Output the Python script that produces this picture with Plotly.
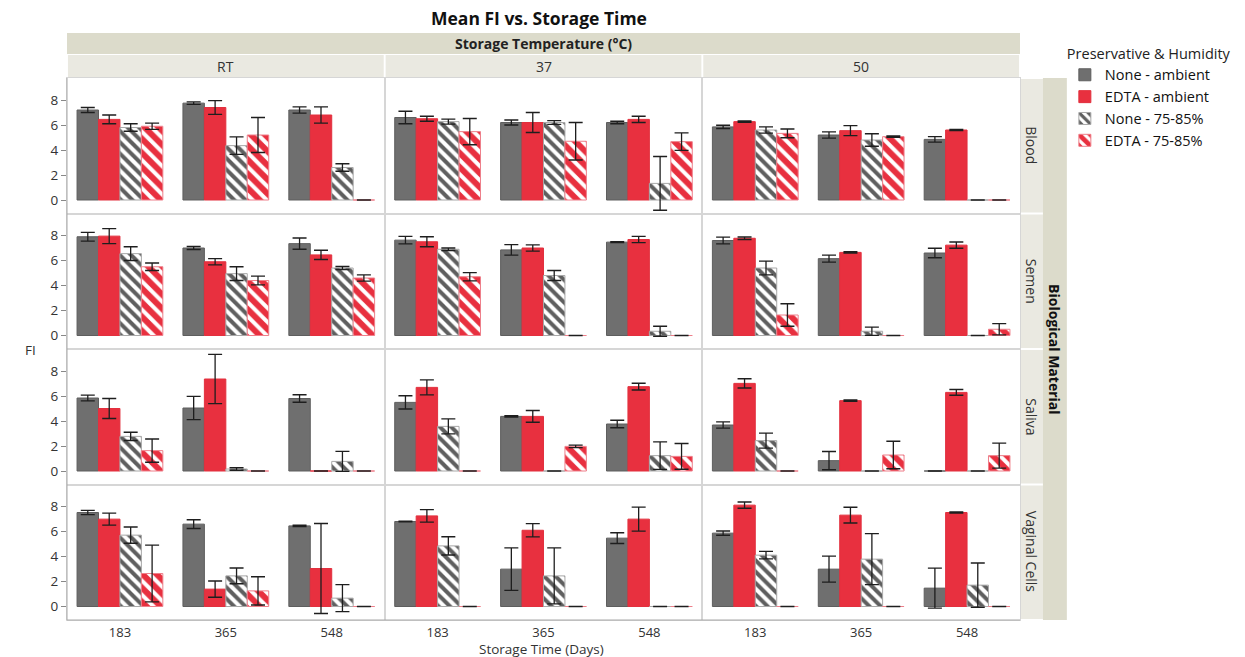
import plotly.graph_objects as go
from plotly.subplots import make_subplots

days = ["183", "365", "548"]
temps = ["RT", "37", "50"]
materials = ["Blood", "Semen", "Saliva", "Vaginal Cells"]
series_names = ["None - ambient", "EDTA - ambient", "None - 75-85%", "EDTA - 75-85%"]

# values ordered: RT(183,365,548), 37(183,365,548), 50(183,365,548)
blood_none_amb = [7.2, 7.75, 7.2, 6.6, 6.2, 6.2, 5.85, 5.2, 4.85]
blood_none_amb_err = [0.2, 0.1, 0.25, 0.5, 0.2, 0.1, 0.13, 0.25, 0.22]
blood_edta_amb = [6.45, 7.4, 6.8, 6.5, 6.2, 6.45, 6.27, 5.55, 5.6]
blood_edta_amb_err = [0.35, 0.55, 0.65, 0.2, 0.8, 0.25, 0.05, 0.4, 0.05]
blood_none_hum = [5.8, 4.35, 2.6, 6.27, 6.2, 1.33, 5.6, 4.8, 0]
blood_none_hum_err = [0.3, 0.7, 0.3, 0.2, 0.15, 2.15, 0.25, 0.5, 0]
blood_edta_hum = [5.9, 5.2, 0, 5.47, 4.7, 4.67, 5.33, 5.07, 0]
blood_edta_hum_err = [0.25, 1.4, 0, 1.05, 1.5, 0.7, 0.35, 0.05, 0]

semen_none_amb = [7.9, 7.0, 7.35, 7.63, 6.85, 7.47, 7.6, 6.15, 6.6]
semen_none_amb_err = [0.35, 0.12, 0.45, 0.3, 0.42, 0.03, 0.27, 0.28, 0.38]
semen_edta_amb = [7.95, 5.9, 6.45, 7.5, 7.0, 7.68, 7.78, 6.65, 7.23]
semen_edta_amb_err = [0.6, 0.25, 0.37, 0.4, 0.25, 0.25, 0.1, 0.05, 0.25]
semen_none_hum = [6.55, 4.95, 5.4, 6.9, 4.8, 0.34, 5.4, 0.34, 0]
semen_none_hum_err = [0.55, 0.55, 0.12, 0.1, 0.4, 0.4, 0.55, 0.33, 0]
semen_edta_hum = [5.5, 4.4, 4.6, 4.7, 0, 0, 1.64, 0, 0.5]
semen_edta_hum_err = [0.3, 0.35, 0.25, 0.33, 0, 0, 0.9, 0, 0.45]

saliva_none_amb = [5.84, 5.04, 5.8, 5.49, 4.37, 3.76, 3.68, 0.83, 0]
saliva_none_amb_err = [0.23, 0.93, 0.3, 0.53, 0.05, 0.3, 0.25, 0.73, 0]
saliva_edta_amb = [5.0, 7.36, 0, 6.69, 4.37, 6.75, 7.01, 5.63, 6.29]
saliva_edta_amb_err = [0.8, 1.97, 0, 0.6, 0.47, 0.27, 0.37, 0.05, 0.23]
saliva_none_hum = [2.77, 0.16, 0.77, 3.57, 0, 1.23, 2.43, 0, 0]
saliva_none_hum_err = [0.33, 0.1, 0.8, 0.6, 0, 1.1, 0.6, 0, 0]
saliva_edta_hum = [1.63, 0, 0, 0, 1.97, 1.17, 0, 1.28, 1.23]
saliva_edta_hum_err = [0.93, 0, 0, 0, 0.1, 1.03, 0, 1.1, 1.0]

vaginal_none_amb = [7.52, 6.59, 6.45, 6.8, 2.99, 5.47, 5.87, 2.99, 1.47]
vaginal_none_amb_err = [0.17, 0.35, 0.05, 0.03, 1.7, 0.43, 0.17, 1.04, 1.6]
vaginal_edta_amb = [6.99, 1.39, 3.04, 7.25, 6.1, 6.99, 8.11, 7.31, 7.52]
vaginal_edta_amb_err = [0.48, 0.65, 3.6, 0.5, 0.53, 0.96, 0.25, 0.63, 0.05]
vaginal_none_hum = [5.71, 2.45, 0.67, 4.85, 2.45, 0, 4.11, 3.79, 1.71]
vaginal_none_hum_err = [0.65, 0.63, 1.08, 0.73, 2.24, 0, 0.3, 2.04, 1.77]
vaginal_edta_hum = [2.64, 1.25, 0, 0, 0, 0, 0, 0, 0]
vaginal_edta_hum_err = [2.27, 1.13, 0, 0, 0, 0, 0, 0, 0]

means = [
    [blood_none_amb, blood_edta_amb, blood_none_hum, blood_edta_hum],
    [semen_none_amb, semen_edta_amb, semen_none_hum, semen_edta_hum],
    [saliva_none_amb, saliva_edta_amb, saliva_none_hum, saliva_edta_hum],
    [vaginal_none_amb, vaginal_edta_amb, vaginal_none_hum, vaginal_edta_hum],
]
errs = [
    [blood_none_amb_err, blood_edta_amb_err, blood_none_hum_err, blood_edta_hum_err],
    [semen_none_amb_err, semen_edta_amb_err, semen_none_hum_err, semen_edta_hum_err],
    [saliva_none_amb_err, saliva_edta_amb_err, saliva_none_hum_err, saliva_edta_hum_err],
    [vaginal_none_amb_err, vaginal_edta_amb_err, vaginal_none_hum_err, vaginal_edta_hum_err],
]

GRAY = "#6F6F6F"
RED = "#E8303F"
FONT = "Open Sans"

styles = [
    dict(color=GRAY, line=dict(color="#5E5E5E", width=1)),
    dict(color=RED, line=dict(color="#E2303E", width=1)),
    dict(color="white", line=dict(color="#A8A8A8", width=1),
         pattern=dict(shape="\\", fgcolor="#5F5F5F", bgcolor="white", size=8, solidity=0.5,
                      fgopacity=1)),
    dict(color="white", line=dict(color="#EE7F8A", width=1),
         pattern=dict(shape="\\", fgcolor=RED, bgcolor="white", size=10, solidity=0.6,
                      fgopacity=1)),
]

fig = make_subplots(rows=4, cols=3, shared_xaxes=False, shared_yaxes=False,
                    horizontal_spacing=0, vertical_spacing=0)

for r in range(4):
    for c in range(3):
        for s in range(4):
            vals = means[r][s][3 * c:3 * c + 3]
            ev = errs[r][s][3 * c:3 * c + 3]
            fig.add_trace(go.Bar(
                x=days, y=vals, name=series_names[s], legendgroup=series_names[s],
                showlegend=(r == 0 and c == 0), marker=styles[s],
                error_y=dict(type="data", array=ev, visible=True, color="#1E1E1E",
                             thickness=1.3, width=7),
            ), row=r + 1, col=c + 1)

for r in range(4):
    for c in range(3):
        fig.update_xaxes(row=r + 1, col=c + 1, type="category", range=[-0.5, 2.5],
                         showline=True, mirror=True, linecolor="#D6D6D6", linewidth=1,
                         showgrid=False, zeroline=False,
                         showticklabels=(r == 3), ticks="",
                         tickfont=dict(family=FONT, size=13, color="#333333"))
        fig.update_yaxes(row=r + 1, col=c + 1, range=[-1.08, 9.76],
                         tickvals=[0, 2, 4, 6, 8], showline=True, mirror=True,
                         linecolor="#D6D6D6", linewidth=1, showgrid=False, zeroline=False,
                         showticklabels=(c == 0), ticks="outside" if c == 0 else "",
                         ticklen=5, tickcolor="#888888",
                         tickfont=dict(family=FONT, size=13.5, color="#333333"))

# body margin is removed in the page (post_script), so figure pixel = page pixel
W, H = 1245, 657
L, R, T, B = 67, 1023, 78, 620
pw, ph = R - L, B - T


def px(xpage):
    return (xpage - L) / pw


def py(ypage):
    return (B - ypage) / ph


shapes = []
shapes.append(dict(type="rect", xref="paper", yref="paper", x0=0, x1=1, y0=py(54), y1=py(33),
                   fillcolor="#DCDBCB", line=dict(width=0), layer="below"))
for c in range(3):
    shapes.append(dict(type="rect", xref="paper", yref="paper", x0=c / 3 + 0.001, x1=(c + 1) / 3 - 0.001,
                       y0=py(77), y1=py(55), fillcolor="#EAE9E1", line=dict(width=0), layer="below"))
for r in range(4):
    shapes.append(dict(type="rect", xref="paper", yref="paper", x0=1.0, x1=px(1046),
                       y0=1 - (r + 1) / 4 + 0.002, y1=1 - r / 4 - 0.002,
                       fillcolor="#EAE9E1", line=dict(width=0), layer="below"))
shapes.append(dict(type="rect", xref="paper", yref="paper", x0=px(1046), x1=px(1070), y0=0, y1=1,
                   fillcolor="#DCDBCB", line=dict(width=0), layer="below"))
shapes.append(dict(type="line", xref="paper", yref="paper", x0=0, x1=0, y0=0, y1=1,
                   line=dict(color="#A8A8A8", width=1)))
shapes.append(dict(type="line", xref="paper", yref="paper", x0=0, x1=1, y0=0, y1=0,
                   line=dict(color="#A8A8A8", width=1)))

ann = []
ann.append(dict(text="<b>Mean FI vs. Storage Time</b>", xref="paper", yref="paper",
                x=px(540), y=py(18), showarrow=False, font=dict(family=FONT, size=17.5, color="#111111"),
                xanchor="center", yanchor="middle"))
ann.append(dict(text="<b>Storage Temperature (°C)</b>", xref="paper", yref="paper",
                x=0.5, y=py(43.5), showarrow=False, font=dict(family=FONT, size=14, color="#222222"),
                xanchor="center", yanchor="middle"))
for c, t in enumerate(temps):
    ann.append(dict(text=t, xref="paper", yref="paper", x=(c + 0.5) / 3, y=py(66),
                    showarrow=False, font=dict(family=FONT, size=14, color="#333333"),
                    xanchor="center", yanchor="middle"))
for r, m in enumerate(materials):
    ann.append(dict(text=m, xref="paper", yref="paper", x=px(1034.5), y=1 - (r + 0.5) / 4,
                    showarrow=False, textangle=90, font=dict(family=FONT, size=14, color="#333333"),
                    xanchor="center", yanchor="middle"))
ann.append(dict(text="<b>Biological Material</b>", xref="paper", yref="paper", x=px(1058), y=0.5,
                showarrow=False, textangle=90, font=dict(family=FONT, size=14, color="#111111"),
                xanchor="center", yanchor="middle"))
ann.append(dict(text="FI", xref="paper", yref="paper", x=px(30), y=py(350), showarrow=False,
                font=dict(family=FONT, size=13.5, color="#333333"), xanchor="center", yanchor="middle"))
ann.append(dict(text="Storage Time (Days)", xref="paper", yref="paper", x=px(543), y=py(648.5),
                showarrow=False, font=dict(family=FONT, size=13.5, color="#333333"),
                xanchor="center", yanchor="middle"))

fig.update_layout(
    width=W, height=H, autosize=False,
    margin=dict(l=L, r=W - R, t=T, b=H - B),
    paper_bgcolor="white", plot_bgcolor="white",
    barmode="group", bargap=0.19, bargroupgap=0,
    shapes=shapes, annotations=ann,
    font=dict(family=FONT, size=13, color="#333333"),
    legend=dict(x=px(1068), y=py(40), xanchor="left", yanchor="top",
                title=dict(text="Preservative & Humidity", font=dict(family=FONT, size=14.5, color="#222222")),
                font=dict(family=FONT, size=14.5, color="#111111"), tracegroupgap=0,
                bgcolor="rgba(0,0,0,0)"),
)

fig.write_html("out.html", config={"displayModeBar": False},
               post_script="document.body.style.margin='0';document.body.style.overflow='hidden';")
